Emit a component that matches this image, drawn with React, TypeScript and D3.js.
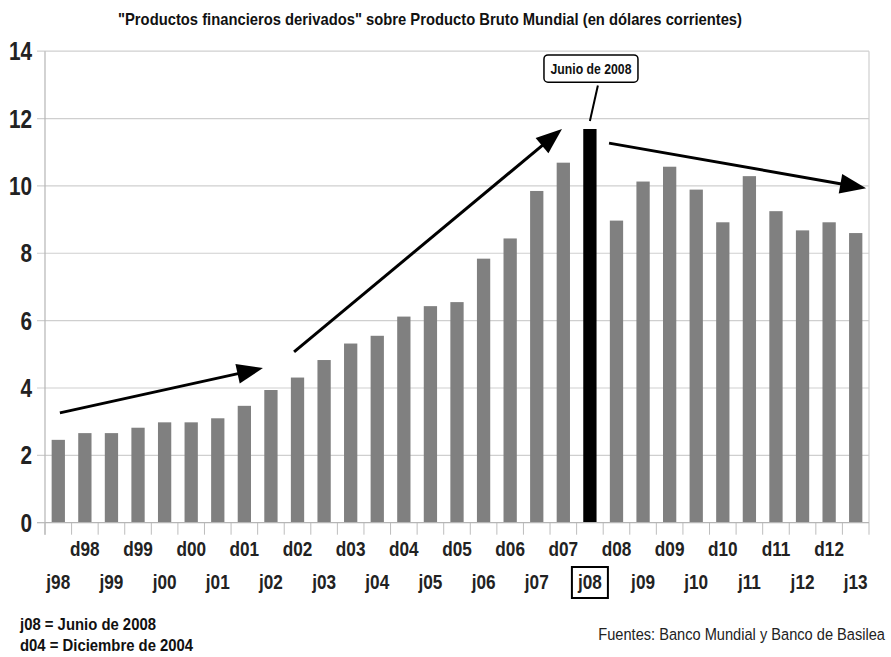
import React, { useEffect, useRef } from "react";
import * as d3 from "d3";

const categories = [
  "j98","d98","j99","d99","j00","d00","j01","d01","j02","d02","j03","d03","j04","d04","j05","d05",
  "j06","d06","j07","d07","j08","d08","j09","d09","j10","d10","j11","d11","j12","d12","j13",
];
const values = [
  2.46, 2.66, 2.66, 2.82, 2.98, 2.98, 3.10, 3.47, 3.94, 4.31, 4.83, 5.32, 5.55, 6.12, 6.43, 6.55,
  7.84, 8.44, 9.85, 10.69, 11.69, 8.97, 10.13, 10.57, 9.89, 8.92, 10.29, 9.25, 8.68, 8.92, 8.60,
];
const highlight = "j08";
const yTicks = [0, 2, 4, 6, 8, 10, 12, 14];

// annotation arrows in data coordinates: [index, value] -> [index, value]
const arrows: [number, number, number, number][] = [
  [0.06, 3.26, 7.7, 4.59],
  [8.87, 5.07, 18.95, 11.69],
  [20.72, 11.27, 30.39, 9.93],
];
const callout = { label: "Junio de 2008", index: 20.04, top: 13.89, bottom: 13.08, lineFrom: [20.3, 12.98], lineTo: [20.0, 11.93] };

const title = "\"Productos financieros derivados\" sobre Producto Bruto Mundial (en dólares corrientes)";
const notes = ["j08 = Junio de 2008", "d04 = Diciembre de 2004"];
const source = "Fuentes: Banco Mundial y Banco de Basilea";

const W = 891, H = 657;
const M = { left: 45, right: 869, top: 51.2, bottom: 522.7 };
const FONT = "'Liberation Sans', Arial, sans-serif";

type TOpts = { size: number; weight?: string; anchor?: string; sx: number; fill?: string };
function addText(parent: any, x: number, y: number, text: string, o: TOpts) {
  const g = parent.append("g").attr("transform", `translate(${x},${y}) scale(${o.sx},1)`);
  return g.append("text")
    .attr("x", 0).attr("y", 0)
    .attr("text-anchor", o.anchor || "start")
    .attr("font-family", FONT)
    .attr("font-weight", o.weight || "normal")
    .attr("font-size", o.size)
    .attr("fill", o.fill || "#1a1a1a")
    .text(text);
}

export default function App() {
  const ref = useRef<SVGSVGElement>(null);
  useEffect(() => {
    const svg = d3.select(ref.current!);
    svg.selectAll("*").remove();

    const x = d3.scaleBand<string>().domain(categories).range([M.left, M.right]).paddingInner(0.5).paddingOuter(0.25);
    const xi = d3.scaleLinear().domain([-0.5, categories.length - 0.5]).range([M.left, M.right]);
    const y = d3.scaleLinear().domain([0, 14]).range([M.bottom, M.top]);

    svg.append("rect").attr("width", W).attr("height", H).attr("fill", "#fff");

    // title
    svg.append("text").attr("x", 430).attr("y", 25).attr("text-anchor", "middle")
      .attr("font-family", FONT).attr("font-weight", "bold").attr("font-size", 17).attr("fill", "#111")
      .attr("textLength", 624).attr("lengthAdjust", "spacingAndGlyphs")
      .text(title);

    const grid = "#cfcfcf";
    // gridlines
    svg.append("g").selectAll("line").data(yTicks.filter(t => t > 0)).join("line")
      .attr("x1", M.left - 8).attr("x2", M.right).attr("y1", d => y(d)).attr("y2", d => y(d))
      .attr("stroke", grid).attr("stroke-width", 1.2);
    svg.append("line").attr("x1", M.left - 8).attr("x2", M.left).attr("y1", y(0)).attr("y2", y(0))
      .attr("stroke", "#b5b5b5").attr("stroke-width", 1.2);
    // right border
    svg.append("line").attr("x1", M.right).attr("x2", M.right).attr("y1", y(14)).attr("y2", y(0))
      .attr("stroke", grid).attr("stroke-width", 1.2);
    // left axis
    svg.append("line").attr("x1", M.left).attr("x2", M.left).attr("y1", y(14)).attr("y2", y(0) + 12)
      .attr("stroke", "#b5b5b5").attr("stroke-width", 1.2);

    // y labels
    const yl = svg.append("g");
    yTicks.forEach(t => addText(yl, 32, y(t) + 9, String(t), { size: 25, weight: "bold", anchor: "end", sx: 0.83, fill: "#222" }));

    // x tick marks at band boundaries
    svg.append("g").selectAll("line").data(d3.range(categories.length + 1)).join("line")
      .attr("x1", i => xi(i - 0.5)).attr("x2", i => xi(i - 0.5))
      .attr("y1", y(0)).attr("y2", y(0) + 12)
      .attr("stroke", "#bdbdbd").attr("stroke-width", 1);

    // bars
    svg.append("g").selectAll("rect").data(categories).join("rect")
      .attr("x", d => x(d)!).attr("width", x.bandwidth())
      .attr("y", (d, i) => y(values[i])).attr("height", (d, i) => y(0) - y(values[i]))
      .attr("fill", d => (d === highlight ? "#000" : "#808080"));

    // baseline
    svg.append("line").attr("x1", M.left).attr("x2", M.right).attr("y1", y(0)).attr("y2", y(0))
      .attr("stroke", "#b5b5b5").attr("stroke-width", 1.2);

    // x labels
    const xl = svg.append("g");
    categories.forEach(c => addText(xl, x(c)! + x.bandwidth() / 2, c.startsWith("d") ? 556 : 589, c,
      { size: 20, weight: "bold", anchor: "middle", sx: 0.86, fill: "#222" }));

    // highlight box around j08 label
    const hx = x(highlight)! + x.bandwidth() / 2;
    svg.append("rect").attr("x", hx - 18).attr("y", 567).attr("width", 36).attr("height", 31)
      .attr("fill", "none").attr("stroke", "#000").attr("stroke-width", 2);

    // arrows
    const ah = svg.append("g");
    arrows.forEach(([i0, v0, i1, v1]) => {
      const x0 = xi(i0), y0 = y(v0), x1 = xi(i1), y1 = y(v1);
      const ang = Math.atan2(y1 - y0, x1 - x0);
      const L = 26, Wd = 10;
      const bx = x1 - L * Math.cos(ang), by = y1 - L * Math.sin(ang);
      ah.append("line").attr("x1", x0).attr("y1", y0).attr("x2", bx + 4 * Math.cos(ang)).attr("y2", by + 4 * Math.sin(ang))
        .attr("stroke", "#000").attr("stroke-width", 3);
      const p1 = [bx - Wd * Math.sin(ang), by + Wd * Math.cos(ang)];
      const p2 = [bx + Wd * Math.sin(ang), by - Wd * Math.cos(ang)];
      ah.append("path").attr("d", `M${x1},${y1}L${p1[0]},${p1[1]}L${p2[0]},${p2[1]}Z`).attr("fill", "#000");
    });

    // callout
    const cx = xi(callout.index);
    const cTop = y(callout.top), cBot = y(callout.bottom);
    svg.append("rect").attr("x", cx - 47).attr("y", cTop).attr("width", 94).attr("height", cBot - cTop)
      .attr("rx", 4).attr("fill", "#fff").attr("stroke", "#000").attr("stroke-width", 1.5);
    addText(svg, cx, (cTop + cBot) / 2 + 5, callout.label, { size: 14, weight: "bold", anchor: "middle", sx: 0.875, fill: "#111" });
    svg.append("line")
      .attr("x1", xi(callout.lineFrom[0])).attr("y1", y(callout.lineFrom[1]))
      .attr("x2", xi(callout.lineTo[0])).attr("y2", y(callout.lineTo[1]))
      .attr("stroke", "#000").attr("stroke-width", 2);

    // notes
    notes.forEach((n, i) => addText(svg, 20, 630 + i * 21, n, { size: 16, weight: "bold", sx: 0.93, fill: "#111" }));
    addText(svg, 885, 640, source, { size: 17, anchor: "end", sx: 0.86, fill: "#222" });
  }, []);
  return (
    <svg ref={ref} width={W} height={H} style={{ position: "absolute", left: 0, top: 0 }} />
  );
}
